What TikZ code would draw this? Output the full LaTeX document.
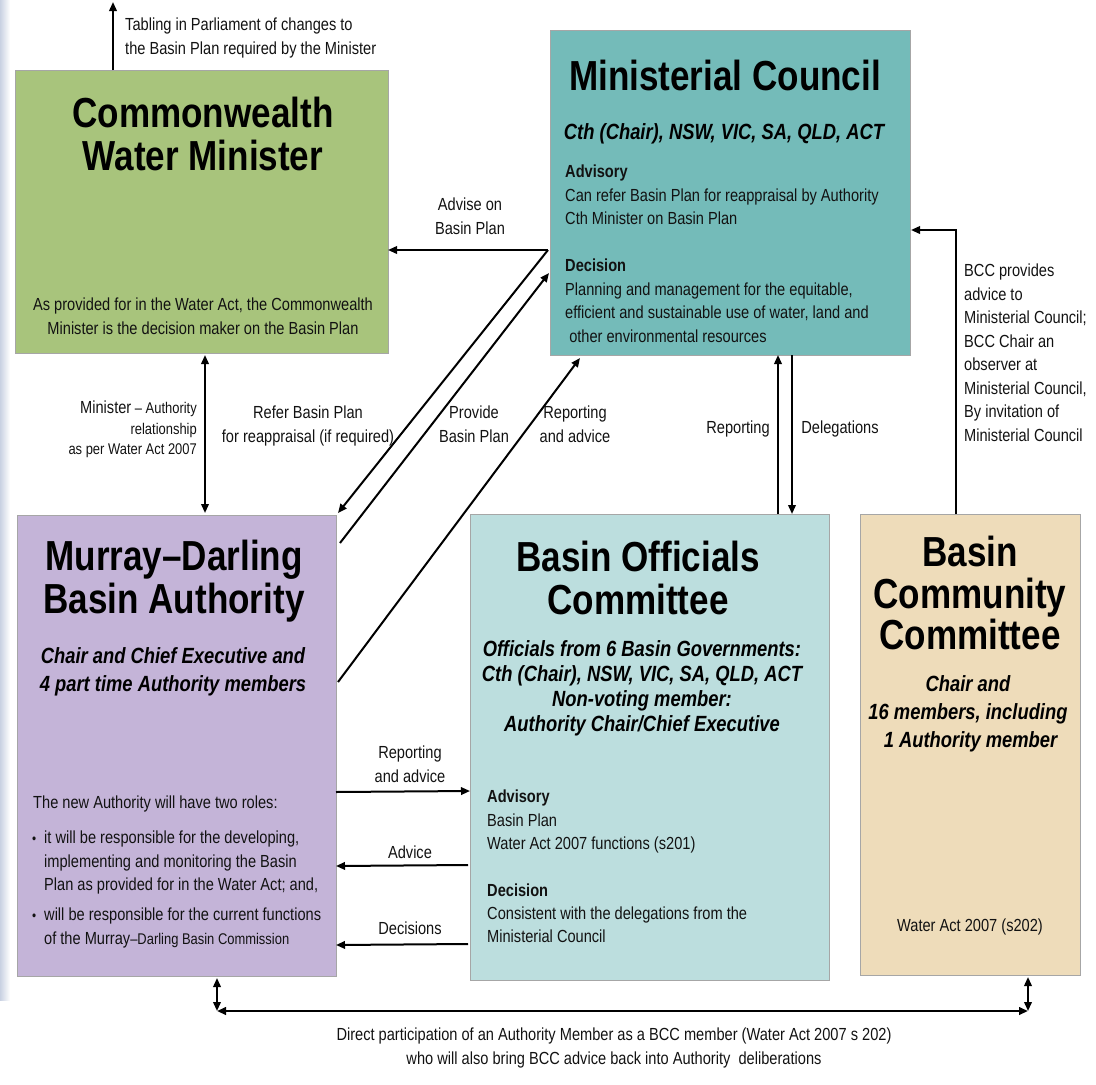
\documentclass[tikz,border=0pt]{standalone}
\usepackage{fontspec}
\setmainfont{Liberation Sans}[FakeStretch=0.835]
\usetikzlibrary{arrows.meta,calc}
\definecolor{cwmc}{HTML}{A8C47C}
\definecolor{mcc}{HTML}{74BBB9}
\definecolor{mdbac}{HTML}{C4B4D8}
\definecolor{bocc}{HTML}{BCDEDE}
\definecolor{bccc}{HTML}{EEDCBA}
\definecolor{edgec}{HTML}{C9D1E2}
\begin{document}
\begin{tikzpicture}[x=1pt,y=-1pt,
  box/.style={draw=black!35, line width=0.8pt, anchor=north west, inner sep=0pt, outer sep=0pt},
  ttl/.style={font=\fontsize{42}{43}\selectfont\bfseries, align=center, inner sep=0pt, anchor=north},
  sub/.style={font=\fontsize{22}{27}\selectfont\bfseries\itshape, align=center, inner sep=0pt, anchor=north},
  body/.style={font=\fontsize{17.5}{23.5}\selectfont, align=left, inner sep=0pt, anchor=north west, text=black!93},
  lbl/.style={font=\fontsize{17.5}{23.5}\selectfont, align=center, inner sep=0pt, text=black!93},
  tip/.style={-{Triangle[length=9pt,width=7.5pt]}},
  arr/.style={line width=2pt, tip},
  dbl/.style={line width=2pt, {Triangle[length=9pt,width=7.5pt]}-{Triangle[length=9pt,width=7.5pt]}},
]
\useasboundingbox (0,0) rectangle (1096,1085);
\shade[left color=edgec, right color=white] (0,0) rectangle (10,1000);

% boxes
\node[box, fill=cwmc, minimum width=373pt, minimum height=283pt] (cwm) at (15,70) {};
\node[box, fill=mcc, minimum width=360pt, minimum height=325pt] (mc) at (550,30) {};
\node[box, fill=mdbac, minimum width=319pt, minimum height=461pt] (mdba) at (17,515) {};
\node[box, fill=bocc, minimum width=359pt, minimum height=466pt] (boc) at (470,514) {};
\node[box, fill=bccc, minimum width=220pt, minimum height=461pt] (bcc) at (860,514) {};

% Commonwealth Water Minister
\node[ttl] (cwmt) at (203,97) {Commonwealth\\Water Minister};
\node[lbl, anchor=north] (cwmb) at (203,298) {As provided for in the Water Act, the Commonwealth\\ Minister is the decision maker on the Basin Plan};

% Ministerial Council
\node[ttl] (mct) at (725,60) {Ministerial Council};
\node[sub] (mcs) at (724,123) {Cth (Chair), NSW, VIC, SA, QLD, ACT};
\node[body] (mcb) at (565,165) {\textbf{Advisory}\\Can refer Basin Plan for reappraisal by Authority\\Cth Minister on Basin Plan\\[23.5pt]\textbf{Decision}\\Planning and management for the equitable,\\efficient and sustainable use of water, land and\\\ other environmental resources};

% MDBA
\node[ttl] (mdbat) at (174,540) {Murray--Darling\\Basin Authority};
\node[sub, font=\fontsize{22}{28}\selectfont\bfseries\itshape] (mdbas) at (173,647) {Chair and Chief Executive and\\4 part time Authority members};
\node[body] (mdbb0) at (33,796) {The new Authority will have two roles:};
\node[body] (mdbu1) at (32,831) {\vphantom{Ay}{\fontsize{14}{14}\selectfont\textbullet}};
\node[body] (mdbb1) at (44,831) {it will be responsible for the developing,\\implementing and monitoring the Basin\\Plan as provided for in the Water Act; and,};
\node[body] (mdbu2) at (32,908) {\vphantom{Ay}{\fontsize{14}{14}\selectfont\textbullet}};
\node[body] (mdbb2) at (44,908) {will be responsible for the current functions\\of the Murray{\fontsize{15.5}{20}\selectfont--Darling Basin Commission}};

% BOC
\node[ttl] (boct) at (638,541) {Basin Officials\\Committee};
\node[sub, font=\fontsize{22}{25}\selectfont\bfseries\itshape] (bocs) at (642,640) {Officials from 6 Basin Governments:\\Cth (Chair), NSW, VIC, SA, QLD, ACT\\Non-voting member:\\Authority Chair/Chief Executive};
\node[body, font=\fontsize{17.5}{23.3}\selectfont] (bocb) at (487,790) {\textbf{Advisory}\\Basin Plan\\Water Act 2007 functions (s201)\\[23.3pt]\textbf{Decision}\\Consistent with the delegations from the\\Ministerial Council};

% BCC
\node[ttl, font=\fontsize{42}{41.5}\selectfont\bfseries] (bcct) at (970,536) {Basin\\Community\\Committee};
\node[sub, font=\fontsize{22}{28}\selectfont\bfseries\itshape] (bccs) at (968,675) {Chair and\\16 members, including\\\ 1 Authority member};
\node[lbl] (bccb) at (970,927) {Water Act 2007 (s202)};

% tabling
\coordinate (parl) at (113,2);
\draw[arr] ($(cwm.north west)+(98,0)$) -- (parl);
\node[body] (tabl) at (125,18) {Tabling in Parliament of changes to\\the Basin Plan required by the Minister};

% advise on basin plan + refer
\coordinate (mcv) at ($(mc.north west)+(-2,220)$);
\draw[arr] (mcv) -- ($(cwm.north east)+(0,180)$);
\node[lbl, anchor=north] (advl) at (470,198) {Advise on\\Basin Plan};
\draw[arr] (mcv) -- ($(mdba.north east)+(2,-2)$);
\draw[arr] ($(mdba.north east)+(4,28)$) -- ($(mc.north west)+(-1,243)$);
\draw[arr] ($(mdba.north east)+(2,167)$) -- ($(mc.south west)+(30,3)$);
\node[lbl, anchor=north] (refl) at (308,406) {Refer Basin Plan\\for reappraisal (if required)};
\node[lbl, anchor=north] (prol) at (474,406) {Provide\\Basin Plan};
\node[lbl, anchor=north] (repl) at (575,406) {Reporting\\and advice};

% minister - authority
\draw[dbl] ($(cwm.south west)+(190,2)$) -- ($(mdba.north west)+(188,-2)$);
\node[lbl, align=right, anchor=north east, font=\fontsize{15.5}{20.5}\selectfont] (mal) at (197,401) {{\fontsize{17.5}{20.5}\selectfont Minister} -- Authority\\relationship\\as per Water Act 2007};

% BOC <-> MC
\draw[arr] ($(boc.north west)+(308,0)$) -- ($(mc.south west)+(228,0)$);
\draw[arr] ($(mc.south west)+(242,0)$) -- ($(boc.north west)+(322,0)$);
\node[lbl] (rptl) at (738,429) {Reporting};
\node[lbl] (dell) at (840,429) {Delegations};

% BCC -> MC
\draw[arr] ($(bcc.north west)+(96,0)$) |- ($(mc.north east)+(1,200)$);
\node[body] (bccl) at (964,264) {BCC provides\\advice to\\Ministerial Council;\\BCC Chair an\\observer at\\Ministerial Council,\\By invitation of\\Ministerial Council};

% MDBA <-> BOC
\draw[arr] ($(mdba.north east)+(0,277)$) -- ($(boc.north west)+(0,277)$);
\draw[arr] ($(boc.north west)+(-2,351)$) -- ($(mdba.north east)+(0,351)$);
\draw[arr] ($(boc.north west)+(-2,430)$) -- ($(mdba.north east)+(0,430)$);
\node[lbl, anchor=north] (rp2l) at (410,746) {Reporting\\and advice};
\node[lbl] (advcl) at (410,852) {Advice};
\node[lbl] (decl) at (410,928) {Decisions};

% bottom
\coordinate (cl) at (217,1011);
\coordinate (cr) at (1028,1011);
\draw[dbl] ($(mdba.south west)+(200,2)$) -- (cl);
\draw[dbl] ($(bcc.south west)+(168,2)$) -- (cr);
\draw[dbl, line width=2.6pt] (cl) -- (cr);
\node[lbl, anchor=north] (botl) at (614,1028) {Direct participation of an Authority Member as a BCC member (Water Act 2007 s 202)\\who will also bring BCC advice back into Authority\ \ deliberations};
\end{tikzpicture}
\end{document}
